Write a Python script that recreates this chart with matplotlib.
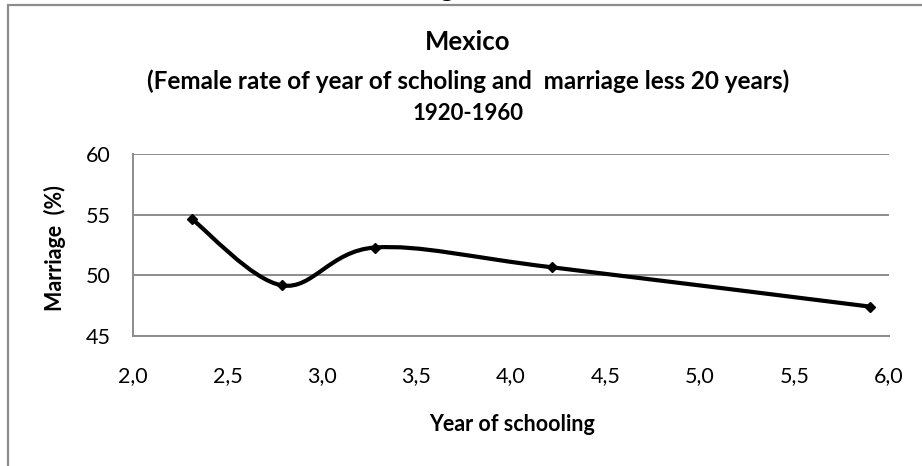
import matplotlib
matplotlib.use("Agg")
import matplotlib.pyplot as plt
from matplotlib.path import Path
from matplotlib.patches import PathPatch, Rectangle

plt.rcParams['font.family'] = ['Lato', 'DejaVu Sans']

# data
schooling = [2.31, 2.79, 3.28, 4.215, 5.90]
marriage = [54.65, 49.15, 52.28, 50.65, 47.40]

x_ticks = [2.0, 2.5, 3.0, 3.5, 4.0, 4.5, 5.0, 5.5, 6.0]
y_ticks = [45, 50, 55, 60]

W, H = 922, 466
fig = plt.figure(figsize=(W / 100, H / 100), dpi=100)

# chart area border (only top and left edges are inside the image)
fig.patches.append(Rectangle((8 / W, -0.1), 1.2, 1 - 5 / H + 0.1,
                             transform=fig.transFigure, fill=False,
                             edgecolor='#8c8c8c', linewidth=1.6))
# tail of a cut-off heading above the chart
fig.text(447 / W, 1 + 4 / H, "g", ha='center', va='baseline',
         fontsize=20, fontweight='bold')

ax = fig.add_axes([133 / W, (H - 335.7) / H, (889 - 133) / W, (335.7 - 154) / H])

# Excel-style smoothed line: cubic Bezier through the points
pts = list(zip(schooling, marriage))
verts = [pts[0]]
codes = [Path.MOVETO]
n = len(pts)
for i in range(n - 1):
    p0 = pts[i - 1] if i > 0 else pts[i]
    p1 = pts[i]
    p2 = pts[i + 1]
    p3 = pts[i + 2] if i + 2 < n else pts[i + 1]
    c1 = (p1[0] + (p2[0] - p0[0]) / 6, p1[1] + (p2[1] - p0[1]) / 6)
    c2 = (p2[0] - (p3[0] - p1[0]) / 6, p2[1] - (p3[1] - p1[1]) / 6)
    verts += [c1, c2, p2]
    codes += [Path.CURVE4] * 3
ax.add_patch(PathPatch(Path(verts, codes), fill=False, edgecolor='black',
                       linewidth=3.0, capstyle='round', joinstyle='round', zorder=3))
ax.plot(schooling, marriage, linestyle='none', marker='D', markersize=5.5,
        color='black', zorder=4)

ax.set_xlim(2.0, 6.0)
ax.set_ylim(45, 60)
ax.set_xticks(x_ticks)
ax.set_yticks(y_ticks)
ax.set_xticklabels([f"{v:.1f}".replace('.', ',') for v in x_ticks])
ax.set_yticklabels([str(v) for v in y_ticks])
ax.yaxis.grid(True, color='#8c8c8c', linewidth=1.4)
ax.set_axisbelow(True)
for s in ['top', 'right']:
    ax.spines[s].set_visible(False)
for s in ['left', 'bottom']:
    ax.spines[s].set_color('#8c8c8c')
    ax.spines[s].set_linewidth(1.4)
ax.tick_params(axis='both', length=0, labelsize=15.5)
ax.tick_params(axis='x', pad=22)
ax.tick_params(axis='y', pad=16)

ax.set_xlabel("Year of schooling", fontsize=15.5, fontweight='bold', va='center')
ax.set_ylabel("Marriage  (%)", fontsize=15.5, fontweight='bold', va='center')
ax.xaxis.set_label_coords(0.502, -0.491)
ax.yaxis.set_label_coords(-0.103, 0.483)

cx = 468 / W
fig.text(cx, 1 - 42 / H, "Mexico", ha='center', va='center',
         fontsize=18.5, fontweight='bold')
fig.text(cx, 1 - 81 / H,
         "(Female rate of year of scholing and  marriage less 20 years)",
         ha='center', va='center', fontsize=17.5, fontweight='bold')
fig.text(cx, 1 - 113 / H, "1920-1960", ha='center', va='center',
         fontsize=16, fontweight='bold')

fig.savefig("out.png", dpi=100)
